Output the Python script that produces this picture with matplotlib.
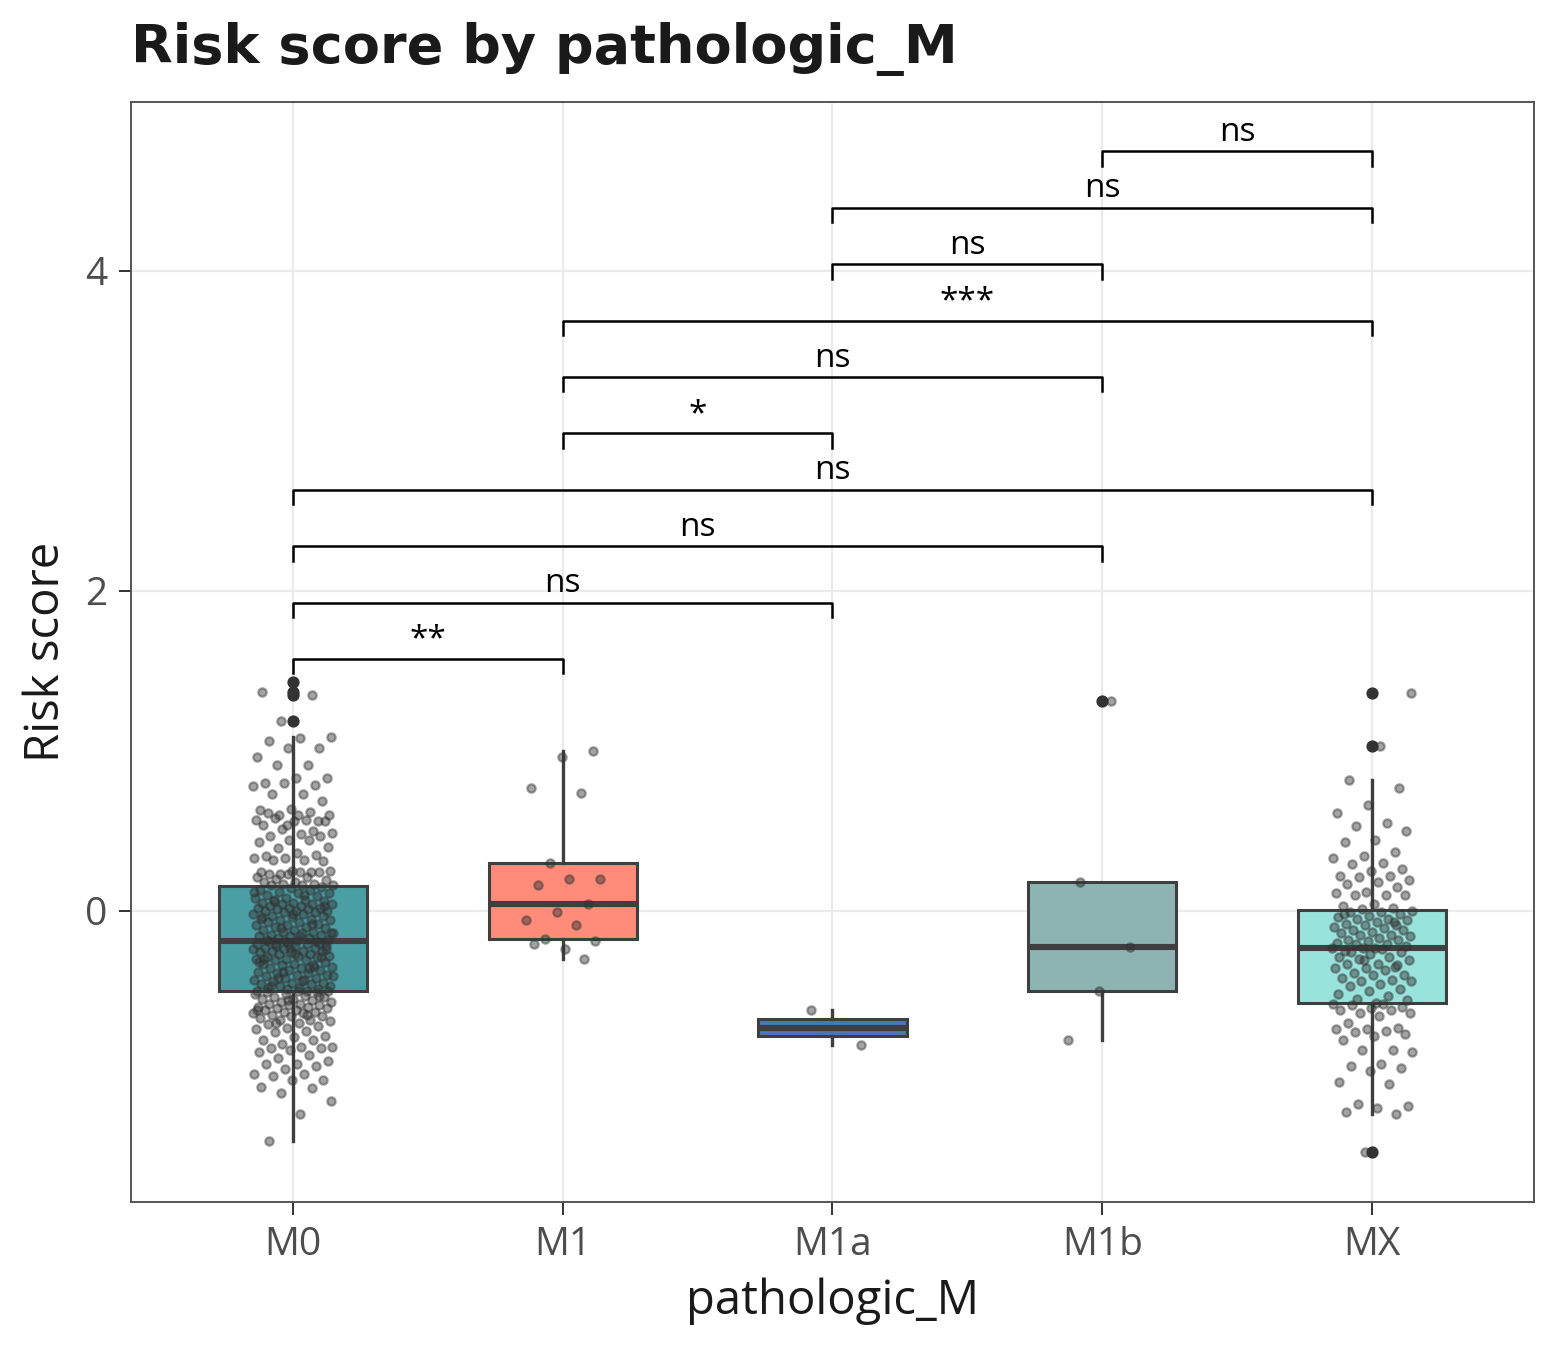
import matplotlib
matplotlib.use('Agg')
import matplotlib.pyplot as plt
import numpy as np

# カテゴリと各群のリスクスコア
groups = ['M0', 'M1', 'M1a', 'M1b', 'MX']

m0 = [
    1.43, 1.37, 1.35, 1.19, 1.09, 1.08, 1.06, 1.02, 1.02, 0.96,
    0.91, 0.91, 0.83, 0.83, 0.80, 0.79, 0.80, 0.78, 0.73, 0.73,
    0.69, 0.64, 0.63, 0.62, 0.60, 0.60, 0.60, 0.61, 0.56, 0.54,
    0.57, 0.57, 0.58, 0.56, 0.56, 0.54, 0.50, 0.51, 0.49, 0.48,
    0.47, 0.47, 0.44, 0.43, 0.44, 0.39, 0.40, 0.36, 0.34, 0.35,
    0.33, 0.33, 0.32, 0.32, 0.31, 0.25, 0.24, 0.24, 0.23, 0.25,
    0.24, 0.23, 0.24, 0.23, 0.21, 0.21, 0.20, 0.19, 0.18, 0.18,
    0.17, 0.17, 0.16, 0.16, 0.16,
    0.15, 0.14, 0.13, 0.13, 0.12, 0.11, 0.11, 0.10, 0.09, 0.08,
    0.08, 0.07, 0.07, 0.06, 0.05, 0.05, 0.04, 0.04, 0.04, 0.03,
    0.03, 0.02, 0.02, 0.02, 0.01, 0.01, 0.00, 0.00, 0.00, -0.01,
    -0.01, -0.02, -0.02, -0.03, -0.03, -0.04, -0.05, -0.05, -0.06, -0.06,
    -0.07, -0.07, -0.08, -0.09, -0.09, -0.10, -0.10, -0.11, -0.12, -0.12,
    -0.13, -0.13, -0.14, -0.14, -0.15, -0.15, -0.16, -0.16, -0.17, -0.17,
    -0.18, -0.18, -0.18, -0.19, -0.19,
    0.12, 0.10, 0.06, 0.03, -0.02, -0.04, -0.08, -0.11, -0.14, -0.16,
    -0.19, -0.20, -0.20, -0.21, -0.21, -0.22, -0.22, -0.22, -0.23, -0.23,
    -0.24, -0.24, -0.25, -0.25, -0.25, -0.26, -0.26, -0.27, -0.27, -0.28,
    -0.28, -0.29, -0.29, -0.30, -0.30, -0.31, -0.31, -0.32, -0.33, -0.33,
    -0.34, -0.34, -0.35, -0.36, -0.36, -0.37, -0.37, -0.38, -0.39, -0.39,
    -0.40, -0.40, -0.41, -0.42, -0.42, -0.43, -0.43, -0.44, -0.45, -0.45,
    -0.46, -0.46, -0.47, -0.47, -0.48, -0.48, -0.49, -0.49, -0.50, -0.50,
    -0.21, -0.24, -0.27, -0.30, -0.35, -0.38, -0.41, -0.44, -0.47, -0.29,
    -0.23, -0.32, -0.36, -0.42, -0.50,
    -0.50, -0.51, -0.51, -0.52, -0.52, -0.53, -0.54, -0.54, -0.55, -0.55,
    -0.56, -0.57, -0.57, -0.58, -0.58, -0.59, -0.59, -0.60, -0.60, -0.61,
    -0.61, -0.62, -0.62, -0.63, -0.63, -0.64, -0.64, -0.65, -0.66, -0.66,
    -0.67, -0.68, -0.68, -0.69, -0.70, -0.71, -0.72, -0.73, -0.74, -0.75,
    -0.76, -0.78, -0.79, -0.81, -0.81, -0.83, -0.85, -0.85, -0.86, -0.86,
    -0.87, -0.88, -0.90, -0.92, -0.94, -0.96, -0.96, -0.97, -0.99, -1.02,
    -1.02, -1.03, -1.06, -1.06, -1.10, -1.11, -1.14, -1.19, -1.27, -1.44,
    -0.53, -0.56, -0.62, -0.65, -0.70,
]

m1 = [1.00, 0.96, 0.77, 0.74, 0.30, 0.20, 0.20, 0.16, 0.04, -0.005,
      -0.055, -0.09, -0.175, -0.19, -0.24, -0.21, -0.30]

m1a = [-0.62, -0.84]

m1b = [1.31, 0.18, -0.225, -0.50, -0.81]

mx = [
    1.36, 1.03, 0.82, 0.77, 0.66, 0.61, 0.55, 0.53, 0.50, 0.44,
    0.43, 0.37, 0.34, 0.33, 0.30, 0.29, 0.26, 0.25, 0.22, 0.22,
    0.21, 0.19, 0.18, 0.17, 0.15, 0.12, 0.11, 0.10, 0.10, 0.10,
    0.04, 0.03, 0.02, 0.01,
    0.00, -0.01, -0.01, -0.02, -0.03, -0.04, -0.05, -0.05, -0.06, -0.07,
    -0.08, -0.09, -0.09, -0.10, -0.11, -0.12, -0.12, -0.13, -0.14, -0.15,
    -0.15, -0.16, -0.17, -0.18, -0.18, -0.19, -0.20, -0.21, -0.21, -0.22,
    -0.23, -0.02, -0.07, -0.23,
    -0.23, -0.24, -0.26, -0.26, -0.27, -0.29, -0.29, -0.30, -0.31, -0.33,
    -0.33, -0.34, -0.36, -0.36, -0.37, -0.39, -0.40, -0.40, -0.42, -0.43,
    -0.44, -0.44, -0.46, -0.47, -0.49, -0.50, -0.52, -0.53, -0.55, -0.56,
    -0.575, -0.25, -0.35, -0.31,
    -0.58, -0.58, -0.59, -0.60, -0.61, -0.62, -0.62, -0.64, -0.64, -0.66,
    -0.70, -0.73, -0.74, -0.74, -0.75, -0.76, -0.77, -0.78, -0.81, -0.87,
    -0.87, -0.88, -0.96, -0.97, -0.98, -1.00, -1.07, -1.08, -1.21, -1.22,
    -1.23, -1.26, -1.27, -1.51,
]

values = [m0, m1, m1a, m1b, mx]
fills = ['#4A9FA5', '#FF8B79', '#4A78B5', '#8DB4B3', '#98E3DC']

# 比較ペアと有意性ラベル
pairs = [(0, 1), (0, 2), (0, 3), (0, 4), (1, 2), (1, 3), (1, 4), (2, 3), (2, 4), (3, 4)]
signif = ['**', 'ns', 'ns', 'ns', '*', 'ns', '***', 'ns', 'ns', 'ns']

sans = ['Open Sans', 'DejaVu Sans']
edge = '#3F3F3F'

fig = plt.figure(figsize=(7.8, 6.75), dpi=200)
ax = fig.add_axes([0.084, 0.1096, 0.8993, 0.8148])

pos = np.arange(len(groups))
bp = ax.boxplot(values, positions=pos, widths=0.55, whis=1.5, patch_artist=True,
                showcaps=False, zorder=2,
                boxprops=dict(edgecolor=edge, linewidth=1.1),
                whiskerprops=dict(color=edge, linewidth=1.2),
                medianprops=dict(color=edge, linewidth=2.2, solid_capstyle='butt'),
                flierprops=dict(marker='o', markerfacecolor='#333333',
                                markeredgecolor='#333333', markersize=3.4))
for patch, c in zip(bp['boxes'], fills):
    patch.set_facecolor(c)

# ジッター点（決定的なずらし）
for i, v in enumerate(values):
    n = len(v)
    frac = (np.arange(n) * 0.6180339887 + 0.37 * i + 0.5) % 1.0
    xs = i + (2 * frac - 1) * 0.15
    ax.scatter(xs, v, s=9, color='#333333', alpha=0.45, linewidths=0.8, zorder=3)

# 有意性ブラケット
base, step, tick = 1.575, 0.3525, 0.09
for k, ((a, b), lab) in enumerate(zip(pairs, signif)):
    y = base + k * step
    ax.plot([a, a, b, b], [y - tick, y, y, y - tick], color='black', lw=0.9, zorder=4)
    ax.text((a + b) / 2, y + 0.065, lab, ha='center', va='baseline',
            fontsize=12, family=sans, color='black')

ax.set_xlim(-0.6, 4.6)
ax.set_ylim(-1.82, 5.056)
ax.set_xticks(pos)
ax.set_xticklabels(groups)
ax.set_yticks([0, 2, 4])
ax.grid(True, color='#EBEBEB', linewidth=0.8, zorder=0)
ax.set_axisbelow(True)
for s in ax.spines.values():
    s.set_color('#555555')
    s.set_linewidth(0.7)
ax.tick_params(length=4.5, width=0.7, color='#333333', labelsize=14,
               labelcolor='#4D4D4D', pad=4)
for lbl in ax.get_xticklabels() + ax.get_yticklabels():
    lbl.set_family(sans)

ax.set_xlabel('pathologic_M', fontsize=17, family=sans, color='#1A1A1A', labelpad=5)
ax.set_ylabel('Risk score', fontsize=17, family=sans, color='#1A1A1A', labelpad=5.5)
ax.set_title('Risk score by pathologic_M', loc='left', fontsize=19.5, fontweight='bold',
             family='DejaVu Sans', color='#1A1A1A', pad=14)

fig.savefig('out.png', dpi=200)
